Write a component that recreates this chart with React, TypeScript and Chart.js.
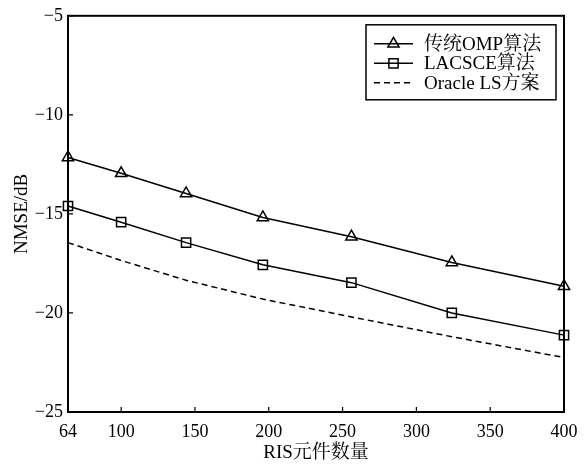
import React, { useEffect, useRef } from 'react';
import { Chart, registerables } from 'chart.js';

Chart.register(...registerables);

const elementCounts = [64, 100, 144, 196, 256, 324, 400];
const ompNmse = [-12.15, -12.95, -13.97, -15.18, -16.15, -17.45, -18.65];
const lacsceNmse = [-14.6, -15.42, -16.45, -17.57, -18.47, -20.0, -21.12];
const oracleNmse = [-16.45, -17.35, -18.35, -19.3, -20.2, -21.2, -22.25];
const xTickValues = [64, 100, 150, 200, 250, 300, 350, 400];
const yTickValues = [-25, -20, -15, -10, -5];
const seriesLabels = ['传统OMP算法', 'LACSCE算法', 'Oracle LS方案'];
const xTitle = 'RIS元件数量';
const yTitle = 'NMSE/dB';

const FONT = '"Liberation Serif", "Noto Serif CJK SC", "Noto Sans CJK SC", serif';

const toPoints = (ys: number[]) => elementCounts.map((x, i) => ({ x, y: ys[i] }));

function drawMarker(ctx: CanvasRenderingContext2D, style: string, cx: number, cy: number) {
  ctx.beginPath();
  if (style === 'triangle') {
    const r = 6.5;
    ctx.moveTo(cx, cy - r);
    ctx.lineTo(cx + r * 0.866, cy + r / 2);
    ctx.lineTo(cx - r * 0.866, cy + r / 2);
    ctx.closePath();
    ctx.stroke();
  } else if (style === 'rect') {
    const s = 4.6;
    ctx.rect(cx - s, cy - s, 2 * s, 2 * s);
    ctx.stroke();
  }
}

const framePlugin = {
  id: 'frameTicks',
  afterDatasetsDraw(chart: any) {
    const { ctx, chartArea, scales } = chart;
    ctx.save();
    ctx.strokeStyle = '#000';
    ctx.lineWidth = 1.2;
    ctx.setLineDash([]);
    ctx.beginPath();
    scales.y.ticks.forEach((t: any) => {
      const py = scales.y.getPixelForValue(t.value);
      ctx.moveTo(chartArea.left, py);
      ctx.lineTo(chartArea.left + 5, py);
    });
    scales.x.ticks.forEach((t: any) => {
      const px = scales.x.getPixelForValue(t.value);
      ctx.moveTo(px, chartArea.bottom);
      ctx.lineTo(px, chartArea.bottom - 5);
    });
    ctx.stroke();
    ctx.lineWidth = 2;
    ctx.strokeRect(chartArea.left, chartArea.top, chartArea.right - chartArea.left, chartArea.bottom - chartArea.top);
    ctx.restore();
  },
};

const legendPlugin = {
  id: 'boxLegend',
  afterDraw(chart: any) {
    const { ctx, chartArea } = chart;
    const w = 190;
    const h = 75;
    const right = chartArea.right - 8;
    const left = right - w;
    const top = chartArea.top + 9;
    ctx.save();
    ctx.fillStyle = '#fff';
    ctx.fillRect(left, top, w, h);
    ctx.strokeStyle = '#000';
    ctx.lineWidth = 1.5;
    ctx.setLineDash([]);
    ctx.strokeRect(left, top, w, h);
    chart.data.datasets.forEach((ds: any, i: number) => {
      const y = top + 19 + i * 19.5;
      ctx.strokeStyle = '#000';
      ctx.lineWidth = 1.5;
      ctx.setLineDash(ds.borderDash || []);
      ctx.beginPath();
      ctx.moveTo(left + 8, y);
      ctx.lineTo(left + 47, y);
      ctx.stroke();
      ctx.setLineDash([]);
      if (ds.pointRadius > 0) drawMarker(ctx, ds.pointStyle, left + 27.5, y);
      ctx.fillStyle = '#000';
      ctx.font = `19px ${FONT}`;
      ctx.textAlign = 'left';
      ctx.textBaseline = 'middle';
      ctx.fillText(ds.label, left + 58, y + 1);
    });
    ctx.restore();
  },
};

export default function App() {
  const ref = useRef<HTMLCanvasElement>(null);
  useEffect(() => {
    if (!ref.current) return;
    Chart.defaults.font.family = FONT;
    Chart.defaults.font.size = 18;
    Chart.defaults.color = '#000';
    const chart = new Chart(ref.current, {
      type: 'line',
      data: {
        datasets: [
          {
            label: seriesLabels[0],
            data: toPoints(ompNmse),
            borderColor: '#000',
            borderWidth: 1.5,
            pointStyle: 'triangle',
            pointRadius: 6.5,
            pointBorderWidth: 1.5,
            pointBackgroundColor: 'rgba(0,0,0,0)',
            pointBorderColor: '#000',
            clip: false,
          },
          {
            label: seriesLabels[1],
            data: toPoints(lacsceNmse),
            borderColor: '#000',
            borderWidth: 1.5,
            pointStyle: 'rect',
            pointRadius: 6.5,
            pointBorderWidth: 1.5,
            pointBackgroundColor: 'rgba(0,0,0,0)',
            pointBorderColor: '#000',
            clip: false,
          },
          {
            label: seriesLabels[2],
            data: toPoints(oracleNmse),
            borderColor: '#000',
            borderWidth: 1.5,
            borderDash: [6, 4],
            pointRadius: 0,
            clip: false,
          },
        ] as any,
      },
      options: {
        responsive: false,
        animation: false,
        layout: { padding: { top: 13.5, right: 20, left: 0, bottom: 0 } },
        plugins: {
          legend: { display: false },
          tooltip: { enabled: false },
        },
        elements: { line: { tension: 0 } },
        scales: {
          x: {
            type: 'linear',
            min: 64,
            max: 400,
            grid: { display: false, drawTicks: false },
            border: { display: false },
            ticks: { padding: 9, autoSkip: false, maxRotation: 0, font: { size: 18 } },
            afterBuildTicks: (scale: any) => {
              scale.ticks = xTickValues.map((v) => ({ value: v }));
            },
            afterFit: (scale: any) => {
              scale.height = 52;
              scale.paddingRight = 0;
            },
            title: { display: true, text: xTitle, font: { size: 19 }, padding: { top: 0, bottom: 0 } },
          },
          y: {
            type: 'linear',
            min: -25,
            max: -5,
            grid: { display: false, drawTicks: false },
            border: { display: false },
            ticks: {
              padding: 5,
              font: { size: 18 },
              callback: (v: any) => String(v).replace('-', '\u2212'),
            },
            afterBuildTicks: (scale: any) => {
              scale.ticks = yTickValues.map((v) => ({ value: v }));
            },
            afterFit: (scale: any) => {
              scale.width = 68;
            },
            title: { display: true, text: yTitle, font: { size: 19 }, padding: { top: 11, bottom: 0 } },
          },
        },
      },
      plugins: [framePlugin, legendPlugin],
    } as any);
    return () => chart.destroy();
  }, []);
  return (
    <div style={{ position: 'absolute', left: 0, top: 0, width: 584, height: 464, background: '#fff' }}>
      <canvas ref={ref} width={584} height={464} />
    </div>
  );
}
